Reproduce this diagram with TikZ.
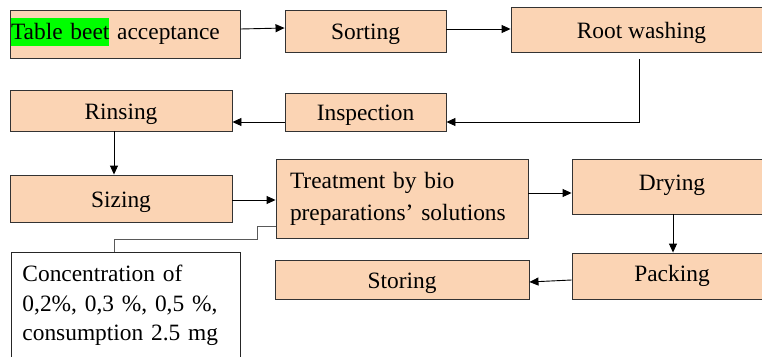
\documentclass[tikz,border=0pt]{standalone}
\usepackage{fontspec}
\setmainfont{Liberation Serif}
\usetikzlibrary{arrows.meta}
\definecolor{peach}{HTML}{FBD4B4}
\definecolor{hlgreen}{HTML}{00FF00}
\newcommand\hlgreenbox[1]{{\setlength\fboxsep{0pt}\colorbox{hlgreen}{\rule[-6pt]{0pt}{28pt}#1}}}
\tikzset{
  stepbox/.style={draw=black!80, line width=0.9pt, fill=peach, inner sep=0pt,
    font=\fontsize{23.4}{31}\selectfont, text height=19pt, text depth=2pt},
  arr/.style={draw=black, line width=0.9pt, -{Triangle[length=9pt,width=8pt]}},
  conn/.style={draw=black!65, line width=0.9pt}
}
\begin{document}
\begin{tikzpicture}[x=1pt,y=-1pt]
\useasboundingbox (0,0) rectangle (762,356);
\clip (0,0) rectangle (762,356);
\node[stepbox, minimum width=230pt, minimum height=48pt, text width=228pt, align=left,
  text height=16pt, text depth=5pt] (tba) at (125,34) {\hlgreenbox{Table beet} acceptance};
\node[stepbox, minimum width=161pt, minimum height=42pt] (sort) at (365.5,31) {Sorting};
\node[stepbox, minimum width=261pt, minimum height=45pt] (root) at (641.5,29.5) {Root washing};
\node[stepbox, minimum width=161pt, minimum height=38pt] (insp) at (365.5,112) {Inspection};
\node[stepbox, minimum width=222pt, minimum height=41pt] (rins) at (121,110.5) {Rinsing};
\node[stepbox, minimum width=222pt, minimum height=47pt] (siz) at (121,198.5) {Sizing};
\node[stepbox, minimum width=252pt, minimum height=79pt, text width=224pt, inner xsep=14pt, align=left,
  text height=, text depth=, font=\fontsize{23.4}{32}\selectfont] (treat) at (402,198.5) {Treatment by bio\\preparations’ solutions};
\node[stepbox, minimum width=200pt, minimum height=55pt, text depth=12pt] (dry) at (672,186.5) {Drying};
\node[stepbox, minimum width=200pt, minimum height=46pt, text depth=8pt] (pack) at (672,276) {Packing};
\node[stepbox, minimum width=254pt, minimum height=39pt] (stor) at (402,279.5) {Storing};
\node[stepbox, fill=white, draw=black!85, minimum width=229pt, minimum height=106pt, text width=207pt,
  inner xsep=11pt, align=left, text height=, text depth=, font=\fontsize{23.4}{29.5}\selectfont,
  anchor=north west] (conc) at (11,252) {Concentration of\\0,2\%, 0,3 \%, 0,5 \%,\\consumption 2.5 mg};
% arrows
\draw[arr] ([yshift=5pt]tba.east) -- ([yshift=3pt]sort.west);
\draw[arr] ([yshift=2pt]sort.east) -- ([yshift=0.5pt]root.west);
\draw[arr] ([xshift=-2.5pt,yshift=-7pt]root.south) |- ([yshift=-10pt]insp.east);
\draw[arr] ([yshift=-10pt]insp.west) -- ([yshift=-11.5pt]rins.east);
\draw[arr] ([xshift=-7pt]rins.south) -- ([xshift=-7pt]siz.north);
\draw[arr] ([yshift=-1.5pt]siz.east) -- ([yshift=-1.5pt]treat.west);
\draw[arr] ([yshift=5.5pt]treat.east) -- ([yshift=-6.5pt]dry.west);
\draw[arr] ([xshift=1pt]dry.south) -- ([xshift=1pt]pack.north);
\draw[arr] ([yshift=-4pt]pack.west) -- ([yshift=-2.5pt]stor.east);
\draw[conn] ([xshift=103pt]conc.north west) |- (257,239) |- ([yshift=-27.5pt]treat.west);
\end{tikzpicture}
\end{document}
